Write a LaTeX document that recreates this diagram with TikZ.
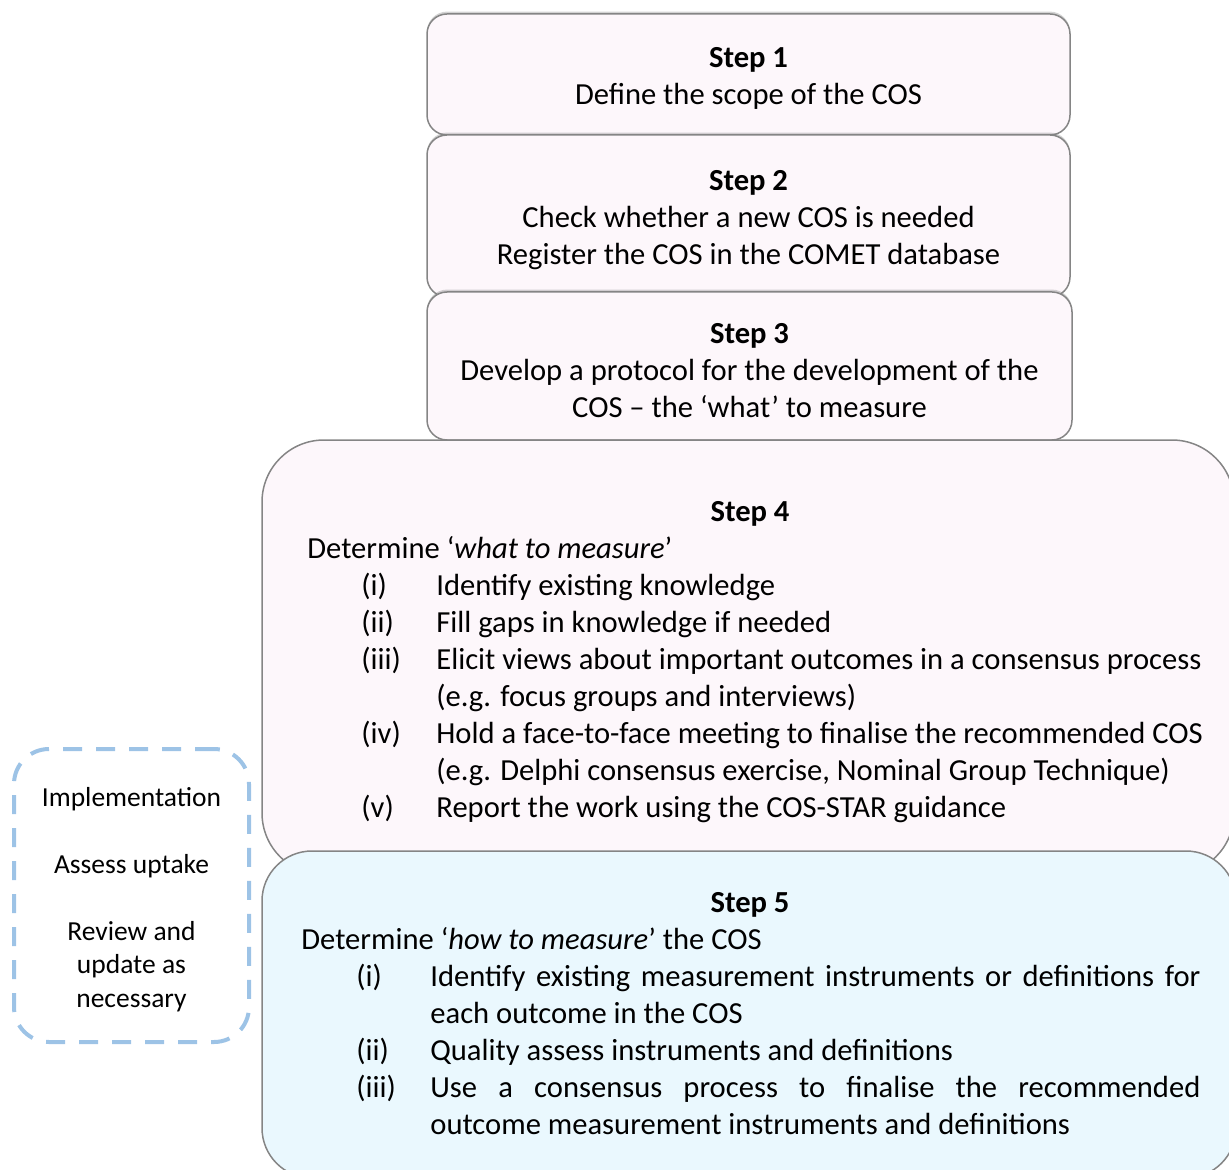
\documentclass[tikz,border=0pt]{standalone}
\usepackage{fontspec}
\setmainfont{Carlito}
\usepackage{array}
\usetikzlibrary{positioning, shadows}

\definecolor{steppink}{HTML}{FDF7FB}
\definecolor{stepcyan}{HTML}{EAF8FE}
\definecolor{stepline}{HTML}{858585}
\definecolor{dashblue}{HTML}{9DC3E6}

\newcommand\boxfont{\fontsize{15.3}{18.5}\selectfont}
\newcommand\sidefont{\fontsize{13.75}{16.75}\selectfont}
\newcommand\headstrut{\rule{0pt}{14.2pt}}

\begin{document}
\begin{tikzpicture}[x=0.5pt, y=-0.5pt]
% ----- Styles -----
\tikzset{
  stepbox/.style={
    rectangle, draw=stepline, line width=0.75pt, rounded corners=10pt,
    fill=steppink, minimum width=321.5pt, align=center, font=\boxfont,
    inner sep=0pt,
    drop shadow={shadow xshift=0pt, shadow yshift=1.2pt, opacity=0.35}
  },
  bigbox/.style={
    rectangle, draw=stepline, line width=0.75pt, inner sep=0pt,
    minimum width=486pt
  },
  headtext/.style={anchor=base, inner sep=0pt, font=\boxfont\bfseries},
  bodytext/.style={anchor=base west, inner sep=0pt, font=\boxfont, align=left},
  dashbox/.style={
    rectangle, draw=dashblue, line width=2pt, dash pattern=on 9.5pt off 7pt,
    rounded corners=17.5pt, minimum width=117.5pt, minimum height=146.5pt,
    align=center, font=\sidefont, inner sep=0pt
  }
}
\useasboundingbox (0,0) rectangle (1229,1170);

% ----- Steps 1 to 3 -----
\node (step1) [stepbox, minimum height=60.5pt] at (748.5,74.5)
  {\headstrut\textbf{Step 1}\\Define the scope of the COS};
\node (step2) [stepbox, minimum height=81pt] at (748.5,216)
  {\headstrut\textbf{Step 2}\\Check whether a new COS is needed\\Register the COS in the COMET database};
\node (step3) [stepbox, minimum width=322.5pt, minimum height=74pt] at (749.5,366)
  {\headstrut\textbf{Step 3}\\Develop a protocol for the development of the\\COS -- the ‘what’ to measure};

% ----- Step 4 -----
\node (step4) [bigbox, fill=steppink, rounded corners=31pt, minimum height=217.5pt] at (748,657.5) {};
\node (step4head) [headtext] at (750,521) {Step 4};
\node (step4body) [bodytext] at (307,558) {%
  \begin{tabular}[t]{@{}p{27pt}@{}p{37.5pt}@{}l@{}}
    \multicolumn{3}{@{}l@{}}{Determine ‘\textit{what to measure}’}\\
    & (i)   & Identify existing knowledge\\
    & (ii)  & Fill gaps in knowledge if needed\\
    & (iii) & Elicit views about important outcomes in a consensus process\\
    &       & (e.g. focus groups and interviews)\\
    & (iv)  & Hold a face-to-face meeting to finalise the recommended COS\\
    &       & (e.g. Delphi consensus exercise, Nominal Group Technique)\\
    & (v)   & Report the work using the COS-STAR guidance
  \end{tabular}};

% ----- Step 5 -----
\node (step5) [bigbox, fill=stepcyan, rounded corners=25pt, minimum width=487pt, minimum height=163.5pt] at (749,1014.5) {};
\node (step5head) [headtext] at (750,912) {Step 5};
\node (step5body) [bodytext] at (301,949) {%
  \begin{tabular}[t]{@{}p{27.5pt}@{}p{37pt}@{}p{385pt}@{}}
    \multicolumn{3}{@{}l@{}}{Determine ‘\textit{how to measure}’ the COS}\\
    & (i)   & Identify existing measurement instruments or definitions for\linebreak each outcome in the COS\\
    & (ii)  & Quality assess instruments and definitions\\
    & (iii) & Use a consensus process to finalise the recommended\linebreak outcome measurement instruments and definitions
  \end{tabular}};

% ----- After the COS -----
\node (after) [dashbox] at (131.5,895.5)
  {\rule{0pt}{13.5pt}Implementation\\[16.75pt]Assess uptake\\[16.75pt]Review and\\update as\\necessary};
\end{tikzpicture}
\end{document}
